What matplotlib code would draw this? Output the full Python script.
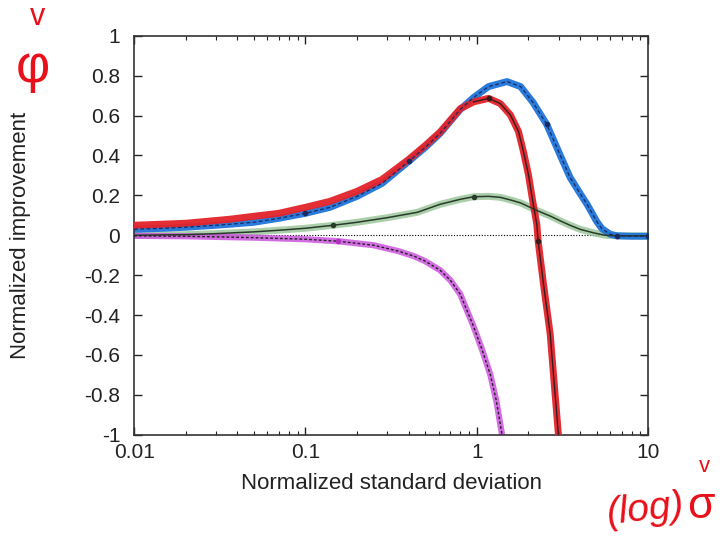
import matplotlib
matplotlib.use("Agg")
import matplotlib.pyplot as plt
import numpy as np
from matplotlib.ticker import FixedLocator, LogLocator, NullFormatter

plt.rcParams['font.family'] = ['Liberation Sans', 'DejaVu Sans']

# READ-OFF DATA (x = normalized standard deviation, y = normalized improvement)

blue_x = [0.01, 0.015, 0.02, 0.03, 0.036, 0.05, 0.07, 0.1, 0.139, 0.2, 0.28, 0.4, 0.5, 0.61,
          0.8, 0.957, 1.17, 1.5, 1.8, 2.13, 2.56, 3.07, 3.5, 4.0, 4.4, 5.0, 5.37, 6.0, 6.6, 8.0, 10.0]
blue_y = [0.03, 0.035, 0.04, 0.05, 0.055, 0.065, 0.085, 0.11, 0.14, 0.195, 0.26, 0.37, 0.44, 0.51,
          0.63, 0.69, 0.745, 0.77, 0.745, 0.665, 0.555, 0.40, 0.29, 0.21, 0.155, 0.07, 0.033,
          0.005, -0.003, -0.005, -0.005]

red_x = [0.01, 0.02, 0.036, 0.05, 0.07, 0.1, 0.139, 0.2, 0.28, 0.4, 0.5, 0.61, 0.8, 0.957,
         1.17, 1.37, 1.57, 1.75, 1.87, 2.0, 2.12, 2.24, 2.28, 2.45, 2.68, 3.0]
red_y = [0.05, 0.06, 0.08, 0.095, 0.11, 0.14, 0.17, 0.22, 0.28, 0.38, 0.45, 0.517, 0.634, 0.668,
         0.686, 0.66, 0.603, 0.52, 0.42, 0.304, 0.17, 0.054, -0.03, -0.245, -0.495, -1.01]

green_x = [0.01, 0.02, 0.03, 0.05, 0.07, 0.1, 0.145, 0.2, 0.3, 0.45, 0.61, 0.8, 0.957, 1.17,
           1.37, 1.6, 1.8, 2.3, 2.7, 3.07, 3.5, 4.0, 4.8, 5.6, 6.6, 10.0]
green_y = [0.0, 0.003, 0.008, 0.017, 0.025, 0.035, 0.05, 0.065, 0.088, 0.115, 0.155, 0.18, 0.193,
           0.195, 0.19, 0.175, 0.162, 0.12, 0.095, 0.072, 0.05, 0.03, 0.012, 0.0, -0.003, -0.003]

magenta_x = [0.01, 0.02, 0.05, 0.1, 0.155, 0.25, 0.35, 0.43, 0.5, 0.61, 0.7, 0.8, 0.95, 1.07,
             1.2, 1.3, 1.41]
magenta_y = [-0.003, -0.005, -0.012, -0.02, -0.03, -0.05, -0.08, -0.105, -0.13, -0.175, -0.225,
             -0.295, -0.45, -0.57, -0.70, -0.83, -1.01]

x_ticks = [0.01, 0.1, 1, 10]
x_labels = ['0.01', '0.1', '1', '10']
y_ticks = [1, 0.8, 0.6, 0.4, 0.2, 0, -0.2, -0.4, -0.6, -0.8, -1]
y_labels = ['1', '0.8', '0.6', '0.4', '0.2', '0', '-0.2', '-0.4', '-0.6', '-0.8', '-1']

# PLOT

fig = plt.figure(figsize=(7.21, 5.49), dpi=100)
ax = fig.add_axes([0.186, 0.208, 0.713, 0.727])

ax.axhline(0, color='black', lw=0.8, ls=(0, (1, 1.5)), zorder=1)

# highlighter strokes
ax.plot(green_x, green_y, color='#9cc79c', lw=5, alpha=0.85, solid_capstyle='round',
        solid_joinstyle='round', zorder=2)
ax.plot(magenta_x, magenta_y, color='#cc55dd', lw=4.5, alpha=0.85, solid_capstyle='round',
        solid_joinstyle='round', zorder=2)
ax.plot(blue_x, blue_y, color='#1f74d8', lw=5, alpha=0.95, solid_capstyle='round',
        solid_joinstyle='round', zorder=2)
ax.plot(red_x, red_y, color='#e3232a', lw=5, alpha=0.95, solid_capstyle='round',
        solid_joinstyle='round', zorder=3)

# printed curves underneath
ax.plot(green_x, green_y, color='#2a3a2a', lw=1.1, marker='o', ms=3, markevery=[6, 12, 25], zorder=4)
ax.plot(magenta_x, magenta_y, color='#222222', lw=1.0, ls=(0, (2, 1.5)), zorder=4)
ax.plot(magenta_x[4:5], magenta_y[4:5], 'o', color='#b030c0', ms=3, zorder=4)
ax.plot(blue_x, blue_y, color='#1a2a60', lw=0.9, ls=(0, (3, 2)), marker='o', ms=3,
        markevery=[7, 11, 20, 28, 30], zorder=4)
ax.plot(red_x[13:], red_y[13:], color='#3a1a1a', lw=1.0, marker='o', ms=3, markevery=[1, 9], zorder=5)

ax.set_xscale('log')
ax.set_xlim(0.01, 10)
ax.set_ylim(-1, 1)

ax.xaxis.set_major_locator(FixedLocator(x_ticks))
ax.set_xticklabels(x_labels)
ax.xaxis.set_minor_locator(LogLocator(base=10, subs=np.arange(2, 10)))
ax.xaxis.set_minor_formatter(NullFormatter())
ax.yaxis.set_major_locator(FixedLocator(y_ticks))
ax.set_yticklabels(y_labels)

ax.tick_params(which='both', direction='in', top=True, right=True, labelsize=15, colors='#222222')
ax.tick_params(which='major', length=6, width=1)
ax.tick_params(axis='y', which='major', pad=10)
ax.tick_params(axis='x', which='major', pad=6)
ax.tick_params(which='minor', length=3, width=0.8)
for s in ax.spines.values():
    s.set_linewidth(1.2)
    s.set_color('#333333')

ax.set_xlabel('Normalized standard deviation', fontsize=16, color='#222222')
ax.set_ylabel('Normalized improvement', fontsize=16, color='#222222')
ax.xaxis.set_label_coords(0.5, -0.095)
ax.yaxis.set_label_coords(-0.2, 0.5)

# handwritten notes
fig.text(33 / 721, 1 - 68 / 549, 'φ', color='#e8101a', fontsize=38, ha='center', va='center')
fig.text(38 / 721, 1 - 17 / 549, 'v', color='#e8101a', fontsize=22, ha='center', va='center')
fig.text(645 / 721, 1 - 510 / 549, '(log)', color='#e8101a', fontsize=28, ha='center', va='center',
         style='italic', rotation=6)
fig.text(701 / 721, 1 - 506 / 549, 'σ', color='#e8101a', fontsize=32, ha='center', va='center')
fig.text(704 / 721, 1 - 467 / 549, 'v', color='#e8101a', fontsize=16, ha='center', va='center')

fig.savefig('out.png', dpi=100)
